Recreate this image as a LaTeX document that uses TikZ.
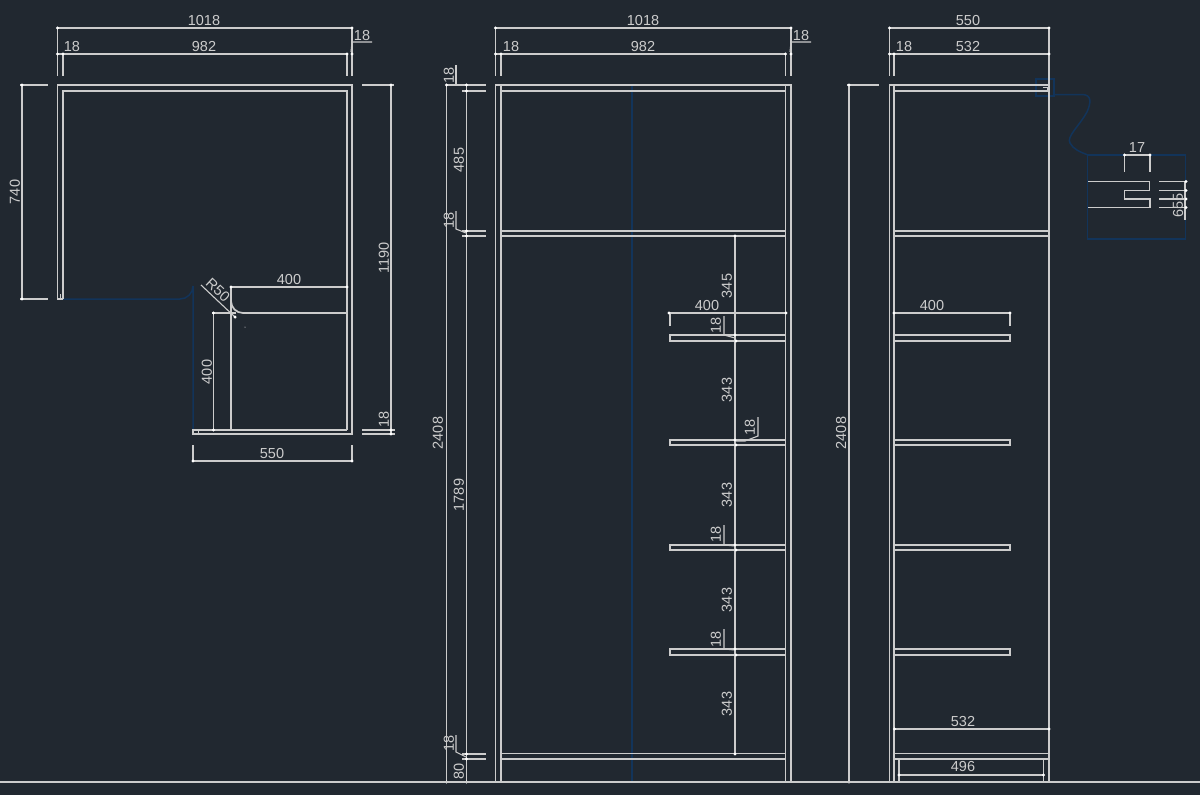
\documentclass[tikz,border=0pt]{standalone}
\usepackage{fontspec}
\setmainfont{Liberation Sans}
\definecolor{bgc}{HTML}{212830}
\definecolor{wl}{HTML}{CCCCCC}
\definecolor{dl}{HTML}{CCCCCC}
\definecolor{bl}{HTML}{12345A}
\tikzset{
 obj/.style={draw=wl,line width=1.75pt},
 fine/.style={draw=wl,line width=0.8pt},
 dimn/.style={draw=dl,line width=1.75pt},
 leader/.style={draw=dl,line width=1.1pt},
 ref/.style={draw=bl,line width=1.5pt},
 lab/.style={text=dl,font=\fontsize{14.5}{15}\selectfont,inner sep=0pt},
 vlab/.style={lab,rotate=90},
}
\newcommand{\tk}[2]{\fill[white] (#1,#2) circle (1.7pt);}
\begin{document}
\begin{tikzpicture}[x=1pt,y=-1pt]
\useasboundingbox (0,0) rectangle (1200,795);
\fill[bgc] (0,0) rectangle (1200,795);
% reference (blue) lines
\draw[ref] (63,299) -- (180,299) arc[start angle=90,end angle=0,radius=13] -- (193,430);
\draw[ref] (632,85) -- (632,782);
\draw[ref] (1036,79) rectangle (1054,96);
\draw[ref] (1054,94.5) -- (1082,94.5) .. controls (1092,94.5) and (1091,103) .. (1087,112) .. controls (1080,125) and (1066,137) .. (1070,143) .. controls (1073,149) and (1080,152) .. (1088,155);
\draw[ref] (1087.5,155) rectangle (1185.5,239);
% plan view
\draw[obj] (63,299) -- (57.5,299) -- (57.5,85) -- (352,85) -- (352,434) -- (193,434) -- (193,430) -- (347,430);
\draw[obj] (63,299) -- (63,91) -- (347,91) -- (347,430);
\draw[obj] (347,313) -- (243,313) arc[start angle=90,end angle=180,radius=12] -- (231,430);
\draw[fine] (198,430) -- (198,434);
\draw[fine] (60,299) -- (60,294);
\fill[white] (245,327) circle (0.5pt);
% plan dimensions
\draw[dimn] (57.5,28) -- (352,28) (57.5,28) -- (57.5,76) (352,28) -- (352,76);
\draw[dimn] (57.5,54) -- (347,54) (63,54) -- (63,76) (347,54) -- (347,76);
\draw[leader] (351,52) -- (352,42) -- (372,42);
\draw[dimn] (20,85) -- (48,85) (20,299) -- (48,299) (22,85) -- (22,299);
\draw[dimn] (362,85) -- (394,85) (362,430) -- (395,430) (362,434) -- (395,434) (391,85) -- (391,434);
\draw[dimn] (231,287) -- (347,287) (231,287) -- (231,313);
\draw[dimn] (213.5,313) -- (213.5,430) (212,313) -- (236,313);
\draw[leader] (201,285) -- (236,318);
\draw[dimn] (193,445) -- (193,461) -- (352,461) -- (352,445);
\foreach \a/\b in {57.5/28,352/28,57.5/54,63/54,347/54,352/54,22/85,22/299,391/85,391/430,391/434,231/287,347/287,213.5/313,213.5/430,235/317,193/461,352/461}{\tk{\a}{\b}}
\node[lab] (p1018) at (204,20.5) {1018};
\node[lab] (p982) at (204,47) {982};
\node[lab] (p18a) at (72,47) {18};
\node[lab] (p18b) at (362,36) {18};
\node[vlab] (p740) at (15,192) {740};
\node[vlab] (p1190) at (384,258) {1190};
\node[vlab] (p18c) at (384,419) {18};
\node[lab] (p400a) at (289,280) {400};
\node[vlab] (p400b) at (207,372) {400};
\node[lab,rotate=-43] (pr50) at (218,290) {R50};
\node[lab] (p550) at (272,454) {550};
% front view
\draw[obj] (495.5,782) -- (495.5,85) -- (791,85) -- (791,782);
\draw[obj] (501,782) -- (501,85) (785.5,782) -- (785.5,85);
\draw[obj] (501,91) -- (785.5,91);
\foreach \y in {231,236,753.5,759}{\draw[obj] (501,\y) -- (785.5,\y);}
\foreach \y/\z in {335/341,440/445,545/550,649/655}{\draw[obj] (785.5,\y) -- (670,\y) -- (670,\z) -- (785.5,\z);}
% front dimensions
\draw[dimn] (495.5,28) -- (791,28) (495.5,28) -- (495.5,76) (791,28) -- (791,76);
\draw[dimn] (495.5,54) -- (785.5,54) (501,54) -- (501,76) (785.5,54) -- (785.5,76);
\draw[leader] (790,52) -- (791,42) -- (811,42);
\draw[dimn] (446.5,85) -- (446.5,782) (466.5,85) -- (466.5,782);
\foreach \y in {85,91,231,236,754,759}{\draw[dimn] (462,\y) -- (486,\y);}
\draw[leader] (446,85) -- (462,85);
\draw[leader] (456,65) -- (456,85);
\draw[leader] (456,211) -- (456,229) -- (466,233);
\draw[leader] (456,735) -- (456,752) -- (466,757);
\draw[dimn] (735,236) -- (735,754);
\draw[dimn] (669,313) -- (786,313) (670,313) -- (670,326);
\draw[leader] (724,316) -- (724,335) -- (735,338);
\draw[leader] (758,417) -- (758,436) -- (745,441) -- (736,441);
\draw[leader] (724,525) -- (724,545) -- (735,546);
\draw[leader] (724,629) -- (724,649) -- (735,650);
\foreach \a/\b in {495.5/28,791/28,495.5/54,501/54,785.5/54,791/54,446.5/85,446.5/782,466.5/85,466.5/91,466.5/231,466.5/236,466.5/754,466.5/759,466.5/782,735/236,735/754,669/313,786/313}{\tk{\a}{\b}}
\foreach \y/\z in {335/341,440/445,545/550,649/655}{\tk{735}{\y}\tk{736}{\z}}
\node[lab] (f1018) at (643,20.5) {1018};
\node[lab] (f982) at (643,47) {982};
\node[lab] (f18a) at (511,47) {18};
\node[lab] (f18b) at (801,36) {18};
\node[vlab] (f18c) at (449,75) {18};
\node[vlab] (f485) at (459,160) {485};
\node[vlab] (f18d) at (449,220) {18};
\node[vlab] (f2408) at (438,433) {2408};
\node[vlab] (f1789) at (459,495) {1789};
\node[vlab] (f18e) at (449,743) {18};
\node[vlab] (f80) at (459,771) {80};
\node[vlab] (f345) at (727,286) {345};
\node[lab] (f400) at (707,306) {400};
\node[vlab] (f18f) at (716,325) {18};
\node[vlab] (f343a) at (727,390) {343};
\node[vlab] (f18g) at (750,427) {18};
\node[vlab] (f343b) at (727,495) {343};
\node[vlab] (f18h) at (716,534) {18};
\node[vlab] (f343c) at (727,600) {343};
\node[vlab] (f18i) at (716,639) {18};
\node[vlab] (f343d) at (727,704) {343};
% side view
\draw[obj] (889.5,782) -- (889.5,85) -- (1049,85) (894,782) -- (894,85) (1049,76) -- (1049,782);
\draw[obj] (894,91) -- (1049,91);
\foreach \y in {231,236,753.5,759}{\draw[obj] (894,\y) -- (1049,\y);}
\foreach \y/\z in {335/341,440/445,545/550,649/655}{\draw[obj] (894,\y) -- (1010,\y) -- (1010,\z) -- (894,\z);}
\draw[obj] (899,759) -- (899,782) (1043.5,759) -- (1043.5,782);
\draw[fine] (1043,87) -- (1047,87) -- (1047,89.5);
% side dimensions
\draw[dimn] (889.5,28) -- (1049,28) (889.5,28) -- (889.5,76) (1049,28) -- (1049,76);
\draw[dimn] (889.5,54) -- (1049,54) (894,54) -- (894,76);
\draw[dimn] (847,85) -- (879,85) (849,85) -- (849,782);
\draw[dimn] (894,313) -- (1010,313) (1010,313) -- (1010,326);
\draw[dimn] (894,729) -- (1049,729);
\draw[dimn] (899,775) -- (1043.5,775);
\foreach \a/\b in {889.5/28,1049/28,889.5/54,894/54,1049/54,849/85,849/782,894/313,1010/313,894.5/729,1049/729,899/775,1043.5/775}{\tk{\a}{\b}}
\node[lab] (s550) at (968,20.5) {550};
\node[lab] (s532a) at (968,47) {532};
\node[lab] (s18) at (904,47) {18};
\node[vlab] (s2408) at (841,433) {2408};
\node[lab] (s400) at (932,306) {400};
\node[lab] (s532b) at (963,722) {532};
\node[lab] (s496) at (963,767) {496};
% detail
\draw[obj] (1088,181.5) -- (1149.5,181.5) -- (1149.5,190.5) -- (1124.5,190.5) -- (1124.5,199) -- (1150,199) -- (1150,207.5) -- (1088,207.5);
\draw[dimn] (1124.5,155) -- (1150,155) (1124.5,155) -- (1124.5,172) (1150,155) -- (1150,172);
\foreach \y in {181.5,190.5,199,207.5}{\draw[dimn] (1159,\y) -- (1186,\y);}
\draw[dimn] (1185,181) -- (1185,220);
\foreach \a/\b in {1124.5/155,1150/155,1186/181.5,1186/190.5,1186/199,1186/207.5}{\tk{\a}{\b}}
\node[lab] (d17) at (1137,148) {17};
\node[vlab] (d6) at (1178,213) {6};
\node[vlab] (d5a) at (1178,205) {5};
\node[vlab] (d5b) at (1178,197) {5};
% ground line
\draw[obj] (0,782) -- (1200,782);
\end{tikzpicture}
\end{document}
